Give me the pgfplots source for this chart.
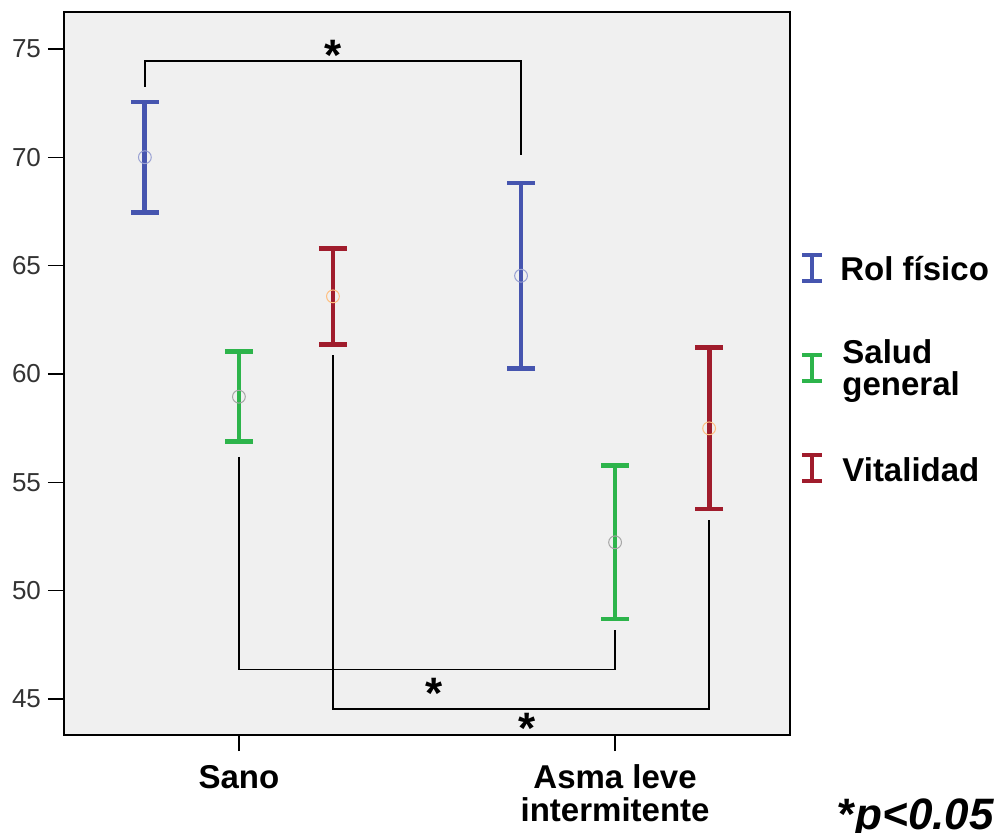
\documentclass[border=0pt]{standalone}
\usepackage{pgfplots}
\pgfplotsset{compat=1.18}
\usepackage{fontspec}
\setmainfont{Liberation Sans}
\definecolor{cblue}{RGB}{70,85,175}
\definecolor{cgreen}{RGB}{45,180,75}
\definecolor{cred}{RGB}{160,28,44}
\begin{document}
\begin{tikzpicture}
\useasboundingbox (-32pt,-48.5pt) rectangle (468pt,367.5pt);
\begin{axis}[
  at={(0,0)}, anchor=south west, scale only axis,
  width=363pt, height=361.5pt,
  xmin=-0.465, xmax=1.465, ymin=43.34, ymax=76.7,
  xtick={0,1}, xticklabels={Sano,{Asma leve\\intermitente}},
  ytick={45,50,55,60,65,70,75},
  tick align=outside, xtick pos=bottom, ytick pos=left,
  major tick length=8pt,
  axis background/.style={fill=gray!12},
  axis line style={line width=0.7pt},
  tick style={line width=0.7pt, black},
  /pgf/number format/assume math mode=true,
  yticklabel style={font=\fontsize{13}{13}\selectfont, text=black!80},
  xticklabel style={font=\fontsize{16.5}{16.5}\selectfont\bfseries, align=center, yshift=-3.5pt},
  clip=false,
]
% Rol fisico
\addplot[cblue, only marks, mark=o, mark size=3.2pt,
  mark options={draw=cblue!55!white, line width=0.5pt},
  error bars/.cd, y dir=both, y explicit, error mark=|,
  error bar style={line width=2.4pt, cblue},
  error mark options={line width=2.4pt, mark size=7pt, cblue}]
  coordinates {(-0.25,70.0) +- (0,2.55) (0.75,64.53) +- (0,4.28)};
% Salud general
\addplot[cgreen, only marks, mark=o, mark size=3.2pt,
  mark options={draw=gray!70, line width=0.5pt},
  error bars/.cd, y dir=both, y explicit, error mark=|,
  error bar style={line width=2.4pt, cgreen},
  error mark options={line width=2.4pt, mark size=7pt, cgreen}]
  coordinates {(0,58.95) +- (0,2.08) (1,52.23) +- (0,3.54)};
% Vitalidad
\addplot[cred, only marks, mark=o, mark size=3.2pt,
  mark options={draw=orange!50!white, line width=0.5pt},
  error bars/.cd, y dir=both, y explicit, error mark=|,
  error bar style={line width=2.4pt, cred},
  error mark options={line width=2.4pt, mark size=7pt, cred}]
  coordinates {(0.25,63.58) +- (0,2.21) (1.25,57.49) +- (0,3.72)};
% significance brackets
\draw[line width=0.75pt] (axis cs:-0.25,73.24) -- (axis cs:-0.25,74.44) -- (axis cs:0.75,74.44) -- (axis cs:0.75,70.1);
\draw[line width=0.75pt] (axis cs:0,56.17) -- (axis cs:0,46.37) -- (axis cs:1,46.37) -- (axis cs:1,48.18);
\draw[line width=0.75pt] (axis cs:0.25,60.87) -- (axis cs:0.25,44.54) -- (axis cs:1.25,44.54) -- (axis cs:1.25,53.26);
\node[font=\fontsize{22}{22}\selectfont\bfseries, anchor=base, inner sep=0pt, yshift=-11pt] at (axis cs:0.25,75.0) {*};
\node[font=\fontsize{22}{22}\selectfont\bfseries, anchor=base, inner sep=0pt, yshift=-11pt] at (axis cs:0.52,45.6) {*};
\node[font=\fontsize{22}{22}\selectfont\bfseries, anchor=base, inner sep=0pt, yshift=-11pt] at (axis cs:0.765,43.95) {*};
\end{axis}
% legend
\foreach \c/\y in {cblue/233.5, cgreen/183.5, cred/133.5}{
  \draw[\c, line width=2.4pt] (374pt,\y pt-6.5pt) -- (374pt,\y pt+6.5pt);
  \draw[\c, line width=2.4pt] (369pt,\y pt-6.5pt) -- (379pt,\y pt-6.5pt);
  \draw[\c, line width=2.4pt] (369pt,\y pt+6.5pt) -- (379pt,\y pt+6.5pt);
}
\node[anchor=base west, inner sep=0pt, font=\fontsize{16.5}{16.5}\selectfont\bfseries] at (388pt,227.5pt) {Rol físico};
\node[anchor=base west, inner sep=0pt, font=\fontsize{16.5}{13}\selectfont\bfseries] at (389pt,170pt) {\begin{tabular}[b]{@{}l@{}}Salud\\general\end{tabular}};
\node[anchor=base west, inner sep=0pt, font=\fontsize{16.5}{16.5}\selectfont\bfseries] at (389pt,126.7pt) {Vitalidad};
\node[anchor=base west, inner sep=0pt, font=\fontsize{22}{22}\selectfont\bfseries] at (387pt,-47pt) {*\itshape p<0.05};
\end{tikzpicture}
\end{document}
